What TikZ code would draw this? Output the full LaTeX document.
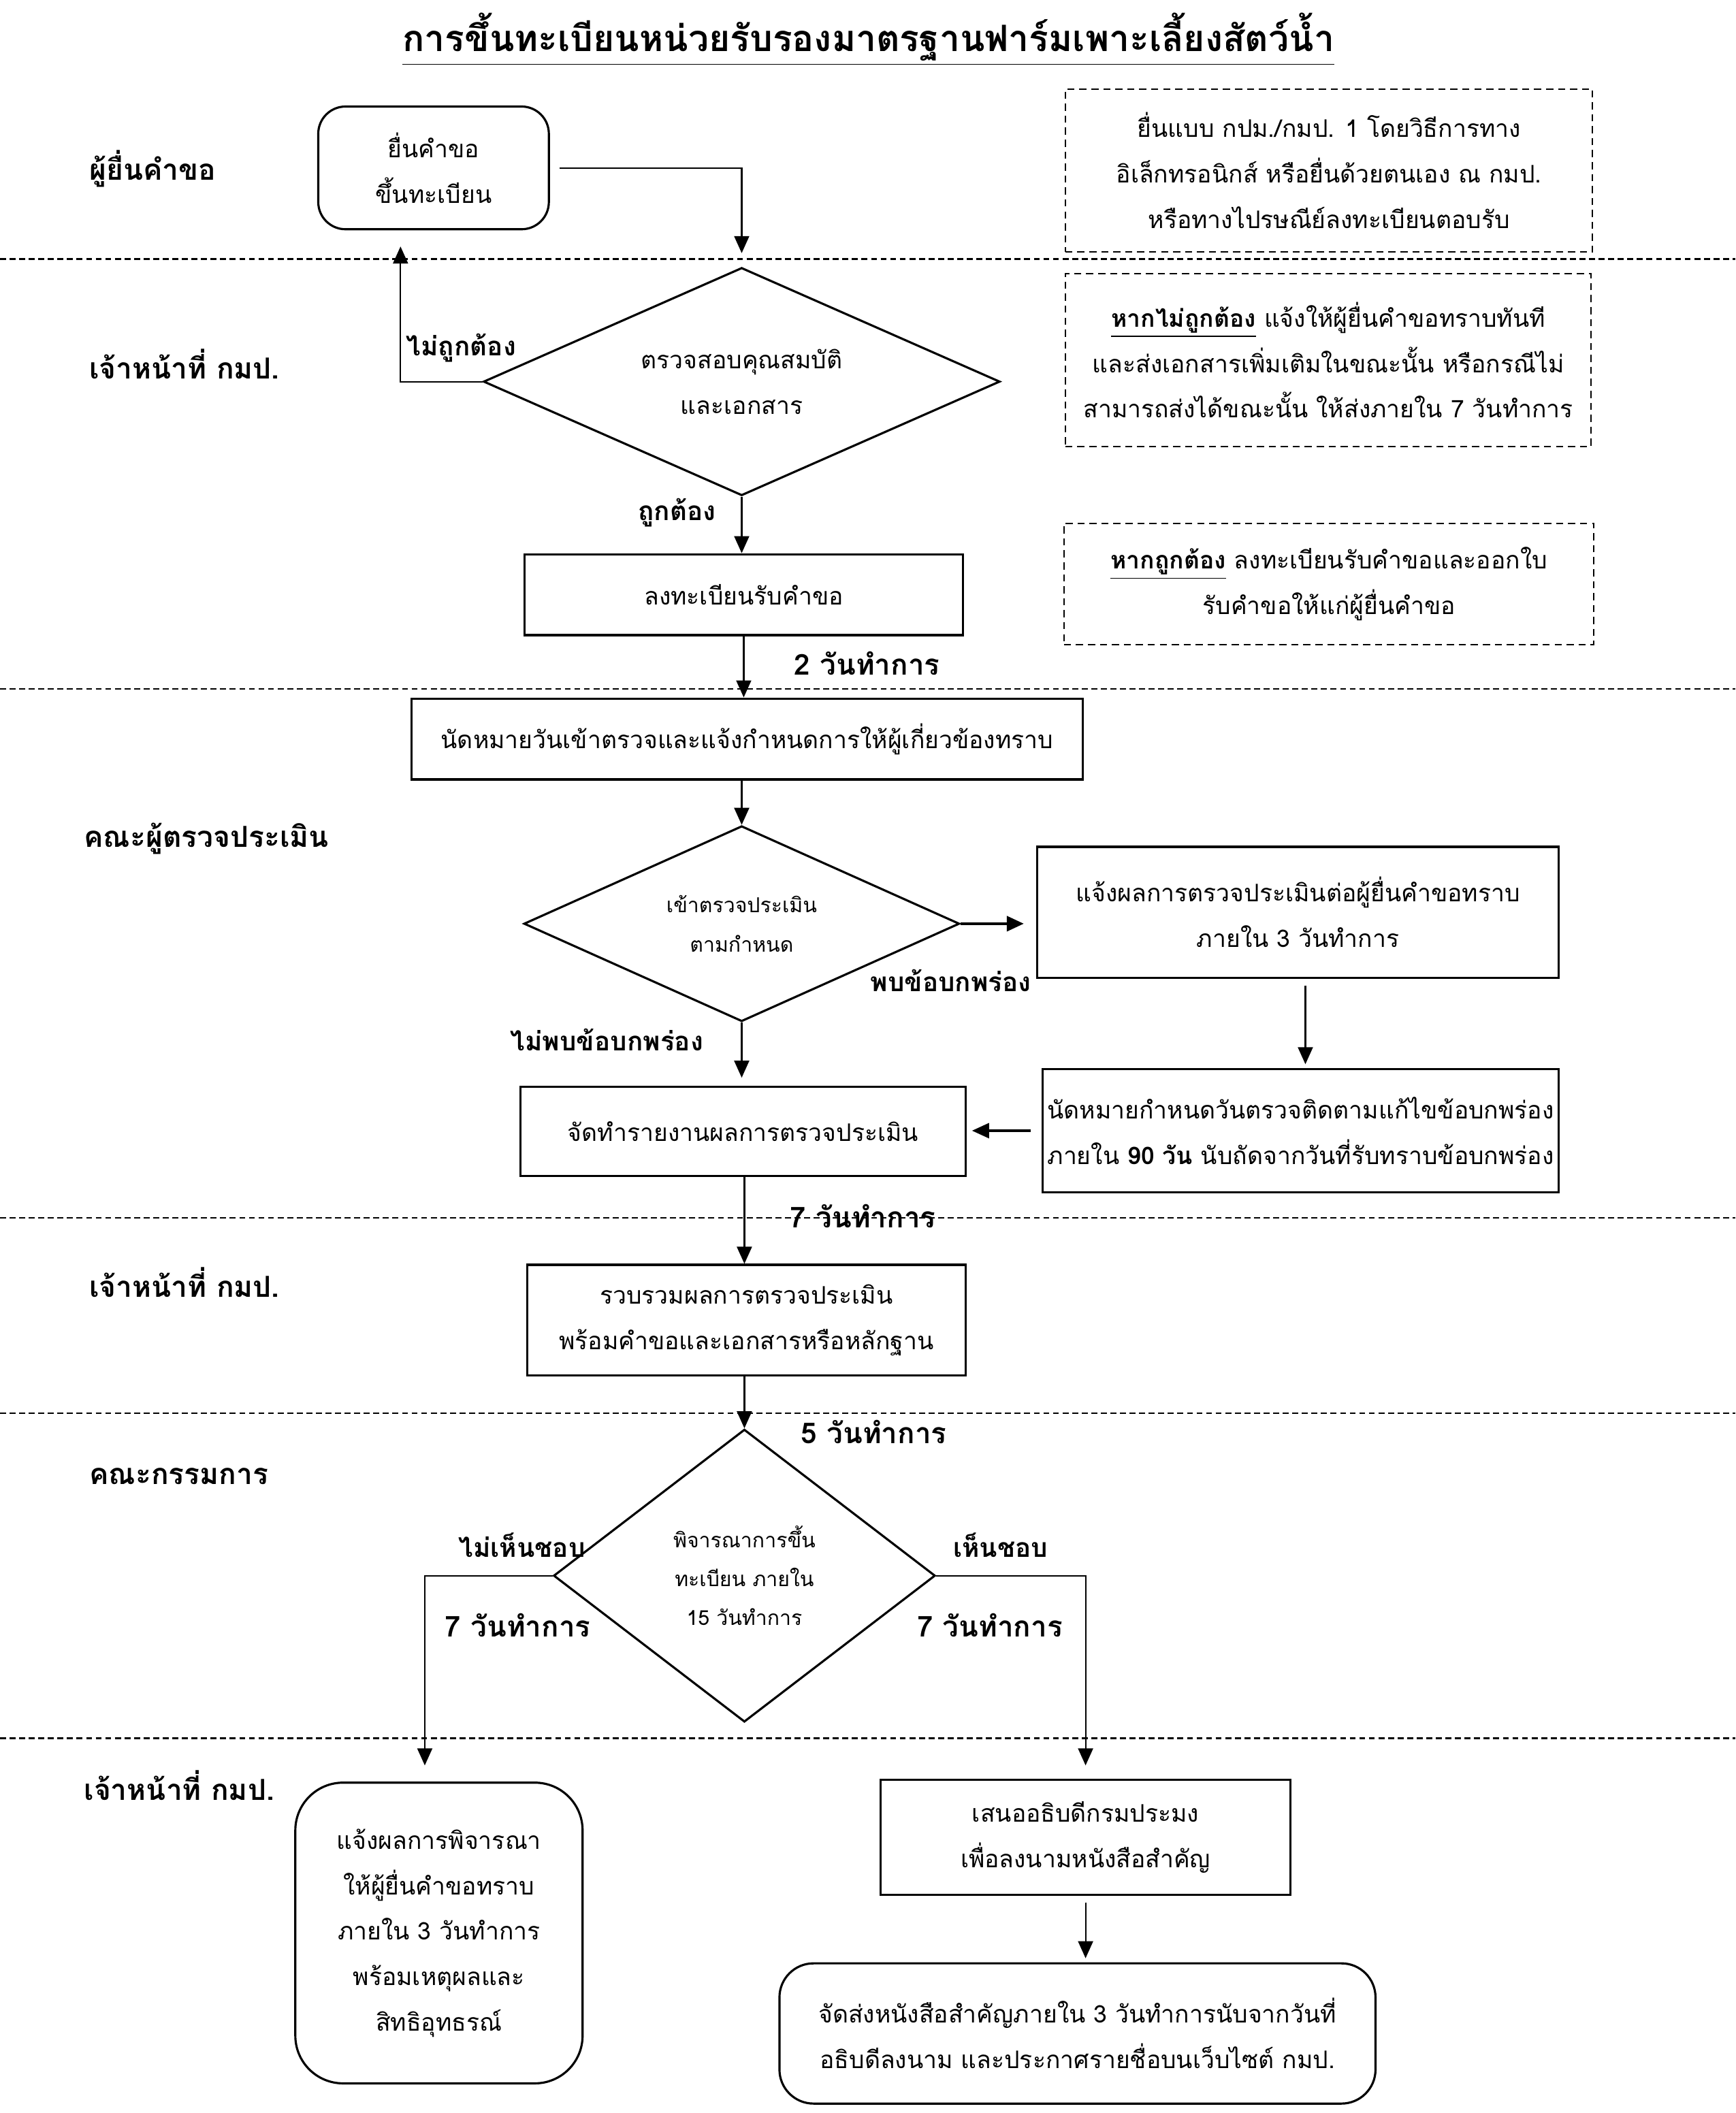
\documentclass[tikz,border=0pt]{standalone}
\usepackage{fontspec}
\setmainfont[Script=Thai]{Loma}
\usetikzlibrary{shapes.geometric,arrows.meta}
\newcommand\fsbody{\fontsize{10.1}{19}\selectfont}
\newcommand\fssmall{\fontsize{8.6}{16.3}\selectfont}
\begin{document}
\begin{tikzpicture}[x=0.01981cm,y=-0.01981cm,
  sz/.style 2 args={minimum width=#1*0.01981cm, minimum height=#2*0.01981cm},
  box/.style={draw, line width=0.9pt, align=center, inner sep=0pt, font=\fsbody},
  note/.style={draw, dash pattern=on 3pt off 2pt, line width=0.6pt, align=center, inner sep=0pt, font=\fsbody},
  dia/.style={draw, diamond, line width=0.9pt, align=center, inner sep=0pt},
  arr/.style={-{Triangle[length=2.5mm,width=2.2mm]}, line width=0.6pt},
  lbl/.style={font=\bfseries\fontsize{11}{14}\selectfont, inner sep=0pt},
  days/.style={font=\bfseries\fontsize{12}{14}\selectfont, inner sep=0pt},
  lane/.style={font=\bfseries\fontsize{12.1}{16}\selectfont, anchor=west, inner sep=0pt},
  sep/.style={dash pattern=on 2.5pt off 1.5pt, line width=0.7pt}]
\useasboundingbox (0,0) rectangle (1287,1567);

% title
\node[font=\bfseries\fontsize{15.2}{20}\selectfont, inner sep=0pt] (title) at (644,29) {\underline{การขึ้นทะเบียนหน่วยรับรองมาตรฐานฟาร์มเพาะเลี้ยงสัตว์น้ำ}};

% lane separators
\foreach \yy in {192,511,903,1048,1289} \draw[sep] (0,\yy) -- (1287,\yy);

% lane labels
\node[lane] (l1) at (66,125) {ผู้ยื่นคำขอ};
\node[lane] (l2) at (66,270) {เจ้าหน้าที่ กมป.};
\node[lane] (l3) at (62,622) {คณะผู้ตรวจประเมิน};
\node[lane] (l4) at (66,951) {เจ้าหน้าที่ กมป.};
\node[lane] (l5) at (66,1095) {คณะกรรมการ};
\node[lane] (l6) at (62,1324) {เจ้าหน้าที่ กมป.};

% boxes
\node[box, sz={171}{91}, rounded corners=0.4cm] (b1) at (321.5,124.5) {ยื่นคำขอ\\ขึ้นทะเบียน};
\node[note, sz={391}{121}] (n1) at (985.5,126.5) {ยื่นแบบ กปม./กมป. 1 โดยวิธีการทาง\\อิเล็กทรอนิกส์ หรือยื่นด้วยตนเอง ณ กมป.\\หรือทางไปรษณีย์ลงทะเบียนตอบรับ};
\node[dia, sz={383}{169}, aspect=2.27, font=\fsbody] (d1) at (550,283) {ตรวจสอบคุณสมบัติ\\และเอกสาร};
\node[note, sz={390}{128}] (n2) at (985,267) {\textbf{\underline{หากไม่ถูกต้อง}} แจ้งให้ผู้ยื่นคำขอทราบทันที\\และส่งเอกสารเพิ่มเติมในขณะนั้น หรือกรณีไม่\\สามารถส่งได้ขณะนั้น ให้ส่งภายใน 7 วันทำการ};
\node[box, sz={325}{60}] (b2) at (551.5,441) {ลงทะเบียนรับคำขอ};
\node[note, sz={393}{90}] (n3) at (985.5,433) {\textbf{\underline{หากถูกต้อง}} ลงทะเบียนรับคำขอและออกใบ\\รับคำขอให้แก่ผู้ยื่นคำขอ};
\node[box, sz={498}{60}] (b3) at (554,548) {นัดหมายวันเข้าตรวจและแจ้งกำหนดการให้ผู้เกี่ยวข้องทราบ};
\node[dia, sz={323}{145}, aspect=2.23, font=\fssmall] (d2) at (550,685) {เข้าตรวจประเมิน\\ตามกำหนด};
\node[box, sz={387}{97}] (b4) at (962.5,676.5) {แจ้งผลการตรวจประเมินต่อผู้ยื่นคำขอทราบ\\ภายใน 3 วันทำการ};
\node[box, sz={383}{91}] (b5) at (964.5,838.5) {นัดหมายกำหนดวันตรวจติดตามแก้ไขข้อบกพร่อง\\ภายใน \textbf{90 วัน} นับถัดจากวันที่รับทราบข้อบกพร่อง};
\node[box, sz={330}{66}] (b6) at (551,839) {จัดทำรายงานผลการตรวจประเมิน};
\node[box, sz={325}{82}] (b7) at (553.5,979) {รวบรวมผลการตรวจประเมิน\\พร้อมคำขอและเอกสารหรือหลักฐาน};
\node[dia, sz={283}{217}, aspect=1.3, font=\fssmall] (d3) at (552,1168.5) {พิจารณาการขึ้น\\ทะเบียน ภายใน\\15 วันทำการ};
\node[box, sz={213}{223}, rounded corners=0.7cm] (b8) at (325.5,1433.5) {แจ้งผลการพิจารณา\\ให้ผู้ยื่นคำขอทราบ\\ภายใน 3 วันทำการ\\พร้อมเหตุผลและ\\สิทธิอุทธรณ์};
\node[box, sz={304}{85}] (b9) at (805,1362.5) {เสนออธิบดีกรมประมง\\เพื่อลงนามหนังสือสำคัญ};
\node[box, sz={442}{104}, rounded corners=0.5cm] (b10) at (799,1508) {จัดส่งหนังสือสำคัญภายใน 3 วันทำการนับจากวันที่\\อธิบดีลงนาม และประกาศรายชื่อบนเว็บไซต์ กมป.};

% connectors
\draw[arr, shorten <=7*0.01981cm, shorten >=10*0.01981cm] (b1.east) -| (d1.north);
\draw[arr, shorten >=12*0.01981cm] (d1.west) -| ([xshift=-24.5*0.01981cm]b1.south);
\draw[arr] (d1.south) -- (d1.south |- b2.north);
\draw[arr] (b2.south) -- (b2.south |- b3.north);
\draw[arr] (b3.south -| d2.north) -- (d2.north);
\draw[arr, line width=1.2pt, shorten >=9*0.01981cm] (d2.east) -- (d2.east -| b4.west);
\draw[arr, shorten <=5*0.01981cm, shorten >=3*0.01981cm] (b4.south -| 968,0) -- (968,0 |- b5.north);
\draw[arr, line width=0.9pt, shorten <=8*0.01981cm, shorten >=4*0.01981cm] (b5.west) -- (b5.west -| b6.east);
\draw[arr, shorten >=6*0.01981cm] (d2.south) -- (d2.south |- b6.north);
\draw[arr] (b6.south -| 552,0) -- (552,0 |- b7.north);
\draw[arr] (b7.south -| d3.north) -- (d3.north);
\draw[arr, shorten >=12*0.01981cm] (d3.west) -| ([xshift=-10.5*0.01981cm]b8.north);
\draw[arr, shorten >=10*0.01981cm] (d3.east) -| (b9.north);
\draw[arr, shorten <=5*0.01981cm, shorten >=3*0.01981cm] (b9.south) -- (b9.south |- b10.north);

% connector labels
\node[lbl] (t1) at (342,258) {ไม่ถูกต้อง};
\node[lbl] (t2) at (502,380) {ถูกต้อง};
\node[days] (t3) at (643,492) {2 วันทำการ};
\node[lbl] (t4) at (705,727) {พบข้อบกพร่อง};
\node[lbl] (t5) at (450,771) {ไม่พบข้อบกพร่อง};
\node[days] (t6) at (640,902) {7 วันทำการ};
\node[days] (t7) at (648,1062) {5 วันทำการ};
\node[lbl] (t8) at (387,1146) {ไม่เห็นชอบ};
\node[lbl] (t9) at (742,1146) {เห็นชอบ};
\node[days] (t10) at (384,1205) {7 วันทำการ};
\node[days] (t11) at (734,1205) {7 วันทำการ};
\end{tikzpicture}
\end{document}
